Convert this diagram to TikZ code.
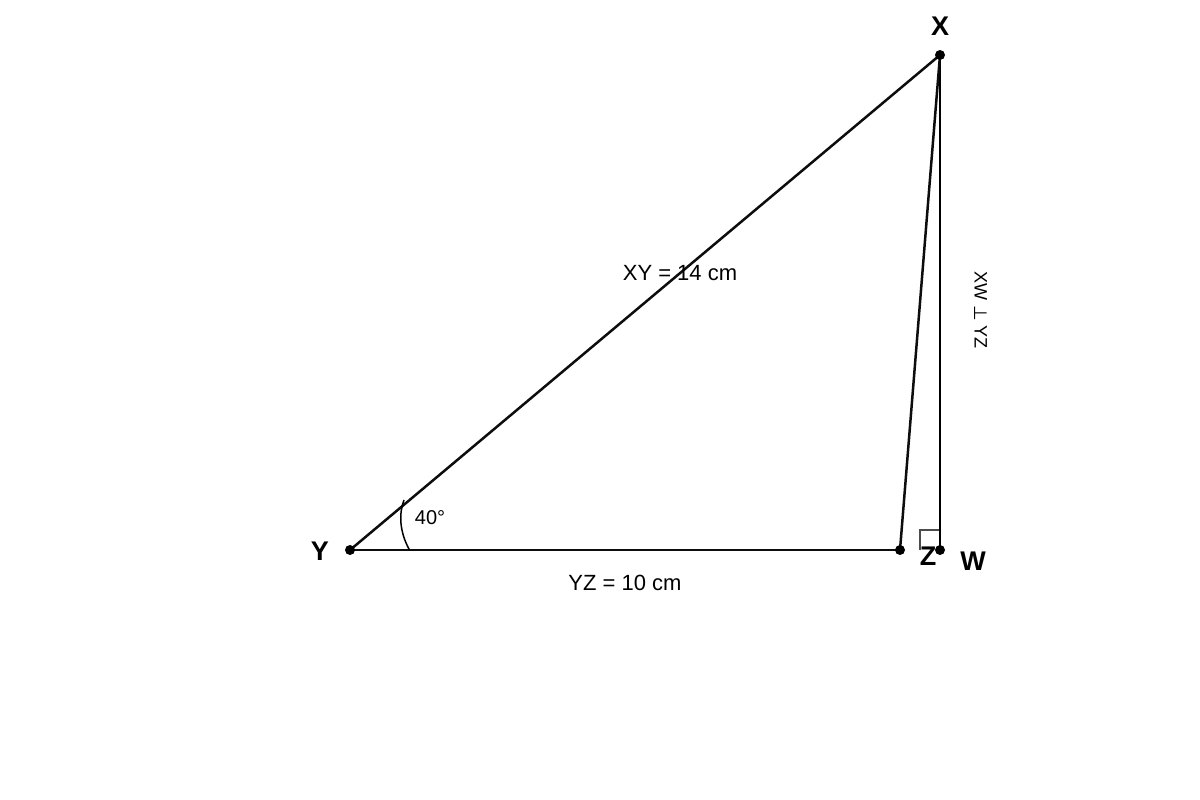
\documentclass[tikz,border=0pt]{standalone}
\usepackage{fontspec}
\setmainfont{Liberation Sans}
\newfontfamily\dvfont{DejaVu Sans}
\begin{document}
\begin{tikzpicture}[x=1pt,y=-1pt,
  pt/.style={circle,fill=black,inner sep=0pt,minimum size=10pt},
  side/.style={line width=2.5pt,black!95},
  lbl/.style={font=\fontsize{27}{30}\selectfont\bfseries,inner sep=0pt},
  txt/.style={font=\fontsize{22}{25}\selectfont,inner sep=0pt},
  small/.style={font=\fontsize{20}{24}\selectfont,inner sep=0pt}]
\useasboundingbox (0,0) rectangle (1200,800);
\coordinate (Y) at (350,550);
\coordinate (Z) at (900,550);
\coordinate (W) at (940,550);
\coordinate (X) at (940,55);
% right angle mark
\draw[line width=1.2pt,black!70] (920,550) -- (920,530) -- (940,530);
% altitude
\draw[line width=2pt] (X) -- (W);
% triangle
\draw[side] (Y) -- (Z);
\draw[side] (Y) -- (X);
\draw[side] (Z) -- (X);
% angle arc
\draw[line width=1.5pt] (409.5,550) .. controls (399,531) and (399,513) .. (404,500);
% points
\node[pt] (pY) at (Y) {};
\node[pt] (pZ) at (Z) {};
\node[pt] (pW) at (W) {};
\node[pt] (pX) at (X) {};
% labels
\node[lbl] (lX) at (940,26) {X};
\node[lbl] (lY) at (320,551) {Y};
\node[lbl] (lZ) at (928,556) {Z};
\node[lbl] (lW) at (973,561) {W};
\node[txt] (tXY) at (680,273) {XY = 14 cm};
\node[txt] (tYZ) at (625,583) {YZ = 10 cm};
\node[small] (tA) at (430,518) {40°};
\node[font=\fontsize{18}{22}\selectfont,inner sep=0pt,rotate=-90] (tP) at (981,310) {XW {\dvfont ⊥} YZ};
\end{tikzpicture}
\end{document}
